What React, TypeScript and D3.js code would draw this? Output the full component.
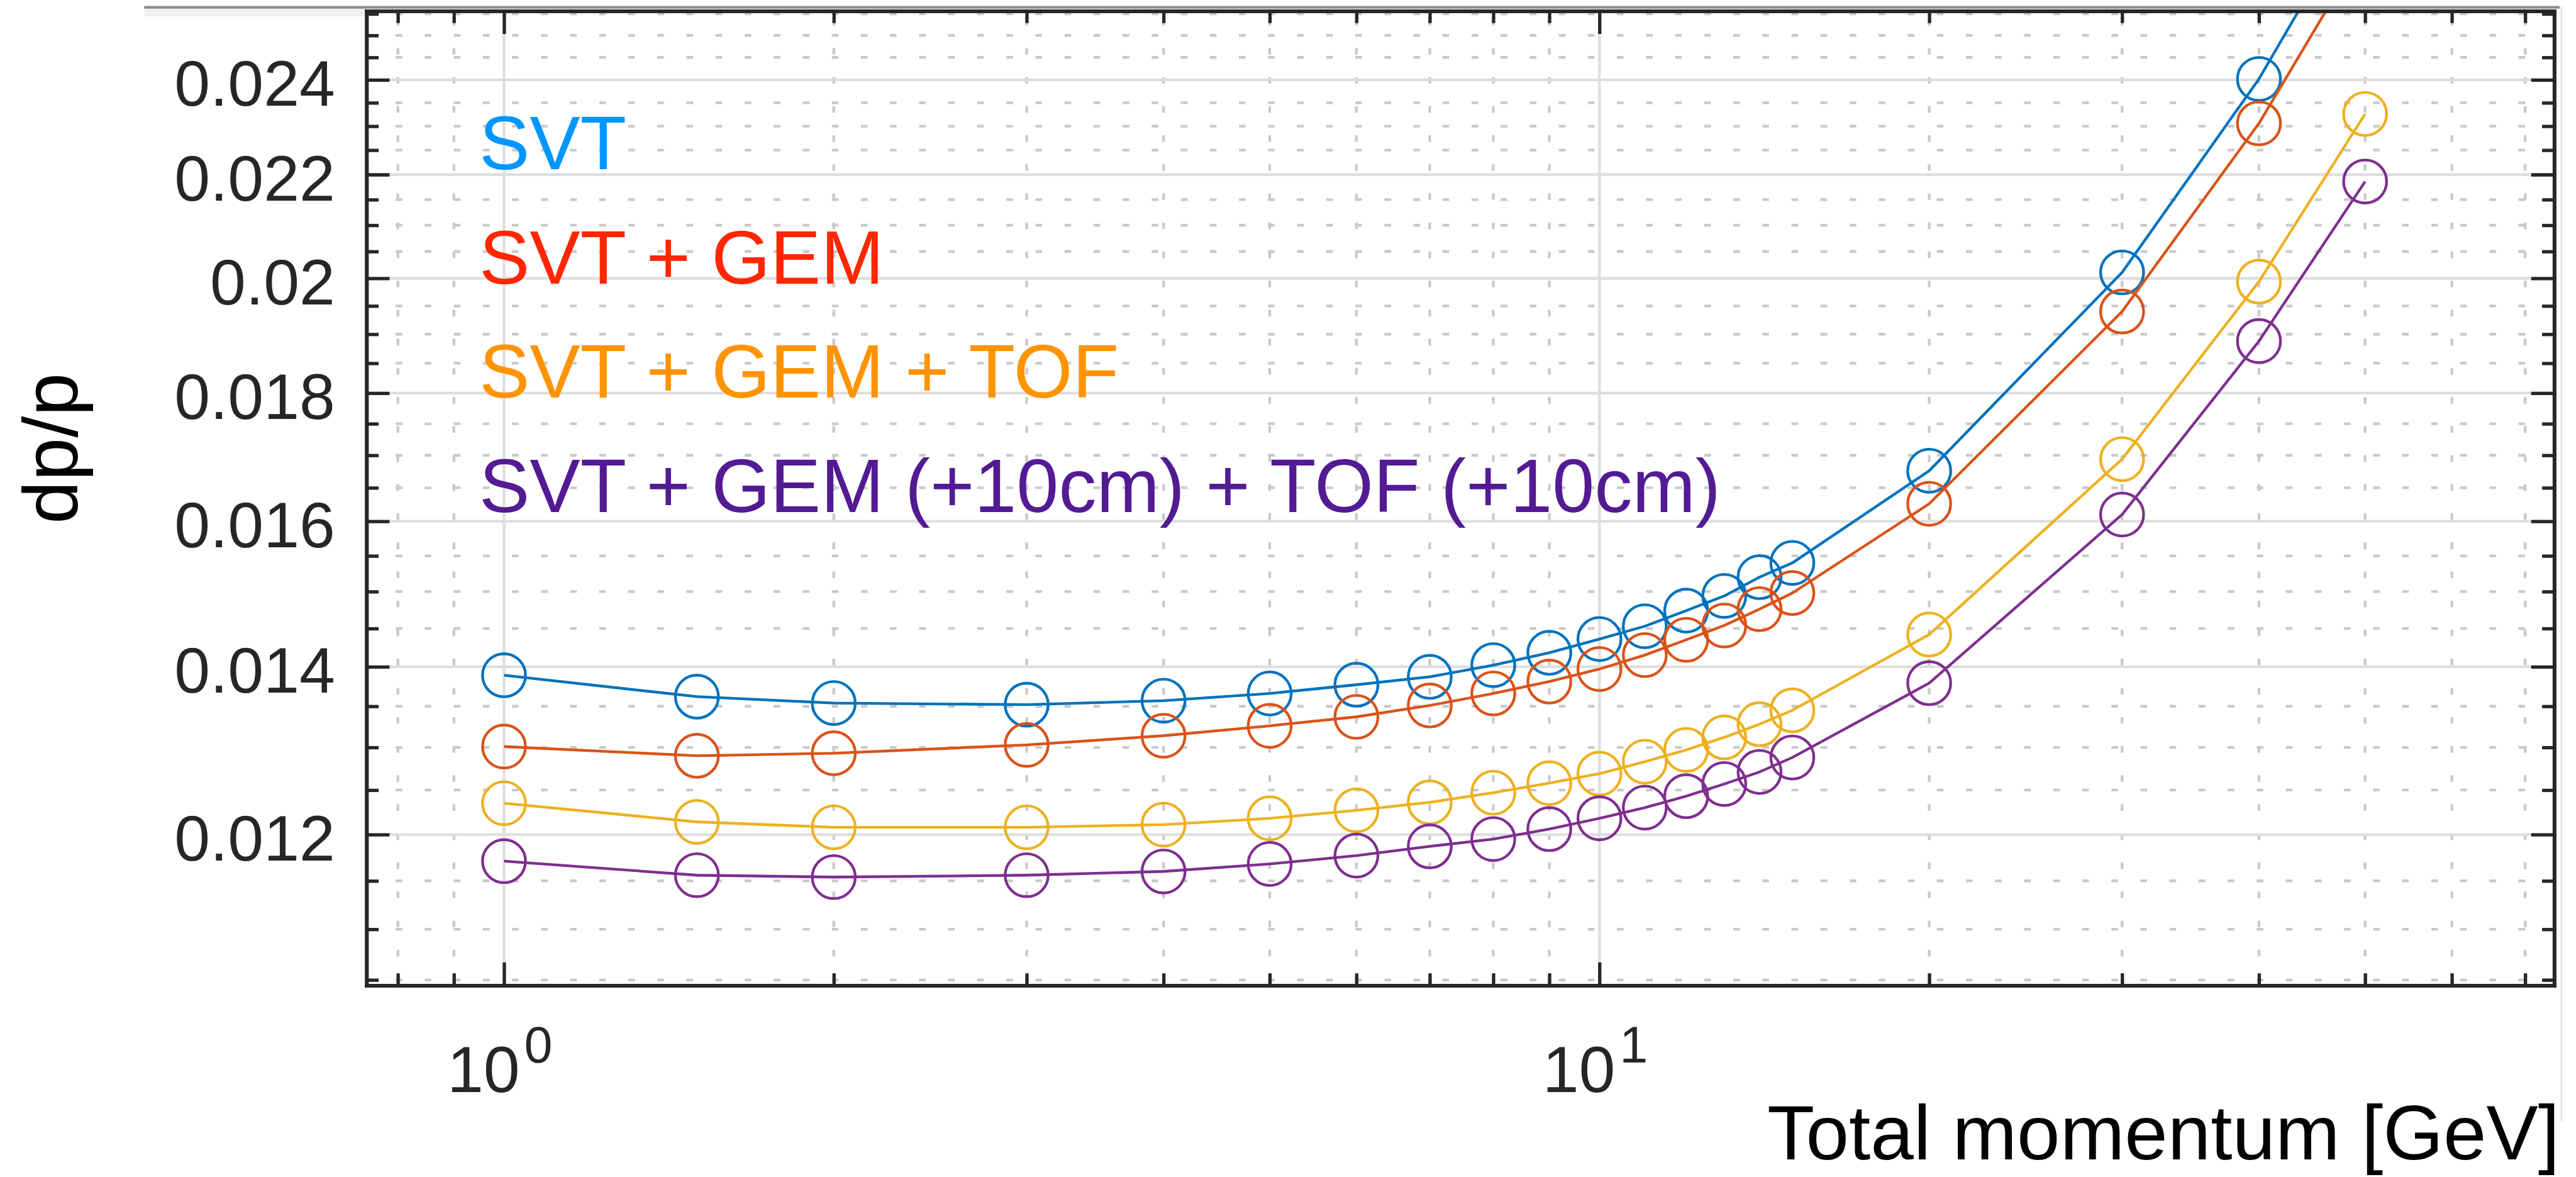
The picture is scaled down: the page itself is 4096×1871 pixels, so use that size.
import React, { useEffect, useRef } from "react";
import * as d3 from "d3";

// momentum points [GeV]
const momentum = [1, 1.5, 2, 3, 4, 5, 6, 7, 8, 9, 10, 11, 12, 13, 14, 15, 20, 30, 40, 50];

// dp/p for each configuration
const svt = [0.01389, 0.01362, 0.01354, 0.01352, 0.01357, 0.01366, 0.01377, 0.01387, 0.01402, 0.01418, 0.01436, 0.01453, 0.01474, 0.01494, 0.0152, 0.0154, 0.01676, 0.02011, 0.02402, 0.0284];
const svtGem = [0.01301, 0.0129, 0.01293, 0.01303, 0.01314, 0.01326, 0.01337, 0.01351, 0.01366, 0.01381, 0.01397, 0.01415, 0.01435, 0.01454, 0.01476, 0.01498, 0.01626, 0.0194, 0.02306, 0.02716];
const svtGemTof = [0.01235, 0.01214, 0.01208, 0.01208, 0.01211, 0.01218, 0.01227, 0.01236, 0.01247, 0.01258, 0.01269, 0.01283, 0.01297, 0.01312, 0.01328, 0.01345, 0.01442, 0.01694, 0.01994, 0.02326];
const svtGemTofShifted = [0.01171, 0.01156, 0.01154, 0.01156, 0.0116, 0.01168, 0.01177, 0.01187, 0.01195, 0.01206, 0.01218, 0.0123, 0.01243, 0.01257, 0.01271, 0.01288, 0.01379, 0.0161, 0.01888, 0.02186];

const seriesNames = ["SVT", "SVT + GEM", "SVT + GEM + TOF", "SVT + GEM (+10cm) + TOF (+10cm)"];
const lineColors = ["#0072BD", "#D95319", "#EDB120", "#7E2F8E"];
const labelColors = ["#0096FF", "#FF2600", "#FF9300", "#531B93"];

// axis limits and ticks
const xLimits = [0.749, 74.4];
const yLimits = [0.010447, 0.025567];
const xMajorTicks = [1, 10];
const xTickBase = ["10", "10"];
const xTickExp = ["0", "1"];
const xMinorTicks = [0.8, 0.9, 2, 3, 4, 5, 6, 7, 8, 9, 20, 30, 40, 50, 60, 70];
const yMajorTicks = [0.012, 0.014, 0.016, 0.018, 0.02, 0.022, 0.024];
const yTickLabels = ["0.012", "0.014", "0.016", "0.018", "0.02", "0.022", "0.024"];
const yMinorTicks = [0.0105, 0.011, 0.0115, 0.0125, 0.013, 0.0135, 0.0145, 0.015, 0.0155, 0.0165, 0.017, 0.0175, 0.0185, 0.019, 0.0195, 0.0205, 0.021, 0.0215, 0.0225, 0.023, 0.0235, 0.0245, 0.025, 0.0255];

const W = 4252;
const H = 1942;
const FONT = "'Liberation Sans', Arial, Helvetica, sans-serif";
const AXIS = "#262626";

export default function App() {
  const ref = useRef<SVGSVGElement>(null);

  useEffect(() => {
    const svg = d3.select(ref.current);
    svg.selectAll("*").remove();

    const m = { left: 605, right: 4216, top: 18, bottom: 1626 };
    const x = d3.scaleLog().domain(xLimits).range([m.left, m.right]);
    const y = d3.scaleLog().domain(yLimits).range([m.bottom, m.top]);

    // window edge bits above / right of the axes
    svg.append("rect").attr("x", 238).attr("y", 14).attr("width", m.left - 238).attr("height", 13).attr("fill", "#f0f0f0");
    svg.append("line").attr("x1", 238).attr("x2", 4225).attr("y1", 12).attr("y2", 12).attr("stroke", "#8a8a8a").attr("stroke-width", 4.5);
    svg.append("line").attr("x1", 4228).attr("x2", 4228).attr("y1", 10).attr("y2", 1850).attr("stroke", "#e2e2e2").attr("stroke-width", 3);

    // grid
    const grid = svg.append("g");
    yMinorTicks.forEach((v) => {
      grid.append("line")
        .attr("x1", m.left).attr("x2", m.right).attr("y1", y(v)).attr("y2", y(v))
        .attr("stroke", "#c9c9c9").attr("stroke-width", 4.5).attr("stroke-dasharray", "11 37");
    });
    xMinorTicks.forEach((v) => {
      grid.append("line")
        .attr("x1", x(v)).attr("x2", x(v)).attr("y1", m.bottom).attr("y2", m.top)
        .attr("stroke", "#c9c9c9").attr("stroke-width", 4.5).attr("stroke-dasharray", "11 37");
    });
    yMajorTicks.forEach((v) => {
      grid.append("line")
        .attr("x1", m.left).attr("x2", m.right).attr("y1", y(v)).attr("y2", y(v))
        .attr("stroke", "#dedede").attr("stroke-width", 4.5);
    });
    xMajorTicks.forEach((v) => {
      grid.append("line")
        .attr("x1", x(v)).attr("x2", x(v)).attr("y1", m.bottom).attr("y2", m.top)
        .attr("stroke", "#dedede").attr("stroke-width", 4.5);
    });

    // data
    svg.append("clipPath").attr("id", "plot-clip")
      .append("rect").attr("x", m.left).attr("y", m.top)
      .attr("width", m.right - m.left).attr("height", m.bottom - m.top);

    const series = [svt, svtGem, svtGemTof, svtGemTofShifted];
    const line = d3.line<number>().x((d, i) => x(momentum[i])).y((d) => y(d));
    const plot = svg.append("g").attr("clip-path", "url(#plot-clip)");
    series.forEach((vals, s) => {
      plot.append("path").attr("d", line(vals)).attr("fill", "none")
        .attr("stroke", lineColors[s]).attr("stroke-width", 4.5).attr("stroke-linejoin", "round");
      plot.selectAll(null).data(vals).enter().append("circle")
        .attr("cx", (d, i) => x(momentum[i])).attr("cy", (d) => y(d)).attr("r", 35.5)
        .attr("fill", "none").attr("stroke", lineColors[s]).attr("stroke-width", 4.5);
    });

    // axes, ticks inward on all four sides
    const styleAxis = (g) => {
      g.attr("font-family", FONT).attr("font-size", 106).style("color", AXIS);
      g.select(".domain").attr("stroke-width", 6).attr("stroke-linecap", "square");
      g.selectAll(".tick line").attr("stroke-width", 5.5);
    };
    const noLabel = () => "";

    svg.append("g").attr("transform", `translate(${m.left},0)`)
      .call(d3.axisLeft(y).tickValues(yMinorTicks).tickSizeInner(-20).tickSizeOuter(0).tickFormat(noLabel)).call(styleAxis);
    svg.append("g").attr("transform", `translate(${m.left},0)`)
      .call(d3.axisLeft(y).tickValues(yMajorTicks).tickSizeInner(-38).tickSizeOuter(0).tickPadding(52)
        .tickFormat((d, i) => yTickLabels[i]))
      .call(styleAxis)
      .selectAll("text").attr("dy", "0.4em").attr("fill", AXIS);

    svg.append("g").attr("transform", `translate(${m.right},0)`)
      .call(d3.axisRight(y).tickValues(yMinorTicks).tickSizeInner(-20).tickSizeOuter(0).tickFormat(noLabel)).call(styleAxis);
    svg.append("g").attr("transform", `translate(${m.right},0)`)
      .call(d3.axisRight(y).tickValues(yMajorTicks).tickSizeInner(-38).tickSizeOuter(0).tickFormat(noLabel)).call(styleAxis);

    svg.append("g").attr("transform", `translate(0,${m.bottom})`)
      .call(d3.axisBottom(x).tickValues(xMinorTicks).tickSizeInner(-20).tickSizeOuter(0).tickFormat(noLabel)).call(styleAxis);
    svg.append("g").attr("transform", `translate(0,${m.bottom})`)
      .call(d3.axisBottom(x).tickValues(xMajorTicks).tickSizeInner(-38).tickSizeOuter(0).tickFormat(noLabel)).call(styleAxis);

    svg.append("g").attr("transform", `translate(0,${m.top})`)
      .call(d3.axisTop(x).tickValues(xMinorTicks).tickSizeInner(-20).tickSizeOuter(0).tickFormat(noLabel)).call(styleAxis);
    svg.append("g").attr("transform", `translate(0,${m.top})`)
      .call(d3.axisTop(x).tickValues(xMajorTicks).tickSizeInner(-38).tickSizeOuter(0).tickFormat(noLabel)).call(styleAxis);

    // x tick labels as 10^n
    xMajorTicks.forEach((v, i) => {
      const t = svg.append("text")
        .attr("x", x(v) - 7).attr("y", 1802).attr("text-anchor", "middle")
        .attr("font-family", FONT).attr("font-size", 108).attr("fill", AXIS);
      t.append("tspan").text(xTickBase[i]);
      t.append("tspan").attr("dx", 7).attr("dy", -49).attr("font-size", 84).text(xTickExp[i]);
    });

    // axis titles
    svg.append("text")
      .attr("transform", "translate(128,740) rotate(-90)")
      .attr("text-anchor", "middle").attr("font-family", FONT).attr("font-size", 128).attr("fill", "#000")
      .text("dp/p");
    svg.append("text")
      .attr("x", 2917).attr("y", 1913)
      .attr("textLength", 1308).attr("lengthAdjust", "spacingAndGlyphs")
      .attr("font-family", FONT).attr("font-size", 128).attr("fill", "#000")
      .text("Total momentum [GeV]");

    // coloured labels
    const labelBaselines = [279, 468, 656, 845];
    seriesNames.forEach((name, i) => {
      svg.append("text")
        .attr("x", 791).attr("y", labelBaselines[i])
        .attr("font-family", FONT).attr("font-size", 125).attr("fill", labelColors[i])
        .text(name);
    });
  }, []);

  return (
    <svg
      ref={ref}
      width={4096}
      height={1871}
      viewBox={`0 0 ${W} ${H}`}
      style={{ position: "absolute", left: 0, top: 0, background: "#fff", display: "block" }}
    />
  );
}
